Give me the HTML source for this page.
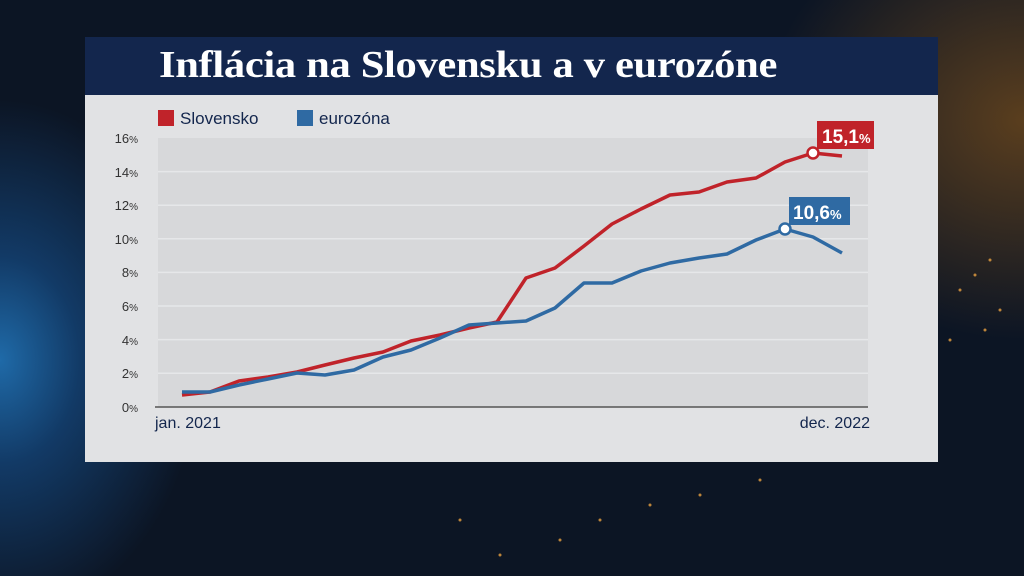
<!DOCTYPE html>
<html><head><meta charset="utf-8"><style>
body{margin:0;width:1024px;height:576px;overflow:hidden;background:#0b1220;font-family:"Liberation Sans",sans-serif}
.bg{position:absolute;inset:0;background:radial-gradient(ellipse 200px 260px at 0px 360px,#1f6aa8 0%,#123a66 40%,rgba(11,18,32,0) 100%),radial-gradient(ellipse 260px 220px at 1024px 120px,#5a3e1e 0%,rgba(11,18,32,0) 100%),#0c1524}
.panel{position:absolute;left:85px;top:37px;width:853px;height:425px;background:#e1e2e4}
.title{position:absolute;left:0;top:0;width:853px;height:58px;background:#13264d}
.title span{position:absolute;left:74px;top:0;color:#fff;font:bold 38px "Liberation Serif",serif;line-height:56px;transform:scaleX(1.12);transform-origin:0 0;white-space:nowrap;letter-spacing:-0.3px}
</style></head><body>
<div class="bg"></div>
<div class="panel"><div class="title"><span>Inflácia na Slovensku a v eurozóne</span></div></div>
<svg style="position:absolute;left:0;top:0" width="1024" height="576">
<g fill="#e8a040" opacity="0.8">
<circle cx="960" cy="290" r="1.5"/><circle cx="975" cy="275" r="1.5"/><circle cx="990" cy="260" r="1.5"/><circle cx="1000" cy="310" r="1.5"/><circle cx="950" cy="340" r="1.5"/><circle cx="985" cy="330" r="1.5"/><circle cx="600" cy="520" r="1.5"/><circle cx="650" cy="505" r="1.5"/><circle cx="700" cy="495" r="1.5"/><circle cx="560" cy="540" r="1.5"/><circle cx="500" cy="555" r="1.5"/><circle cx="460" cy="520" r="1.5"/><circle cx="760" cy="480" r="1.5"/>
</g>
<rect x="158" y="138" width="710" height="269" fill="#d7d8da"/>
<g stroke="#e6e7e9" stroke-width="1.5">
<line x1="158" x2="868" y1="171.6" y2="171.6"/><line x1="158" x2="868" y1="205.2" y2="205.2"/><line x1="158" x2="868" y1="238.8" y2="238.8"/><line x1="158" x2="868" y1="272.4" y2="272.4"/><line x1="158" x2="868" y1="306" y2="306"/><line x1="158" x2="868" y1="339.6" y2="339.6"/><line x1="158" x2="868" y1="373.2" y2="373.2"/>
</g>
<line x1="155" x2="868" y1="407" y2="407" stroke="#555" stroke-width="1.5"/>
<g font-size="13" fill="#333" text-anchor="end">
<text x="138" y="143">16<tspan font-size="10">%</tspan></text><text x="138" y="177">14<tspan font-size="10">%</tspan></text><text x="138" y="210">12<tspan font-size="10">%</tspan></text><text x="138" y="244">10<tspan font-size="10">%</tspan></text><text x="138" y="277">8<tspan font-size="10">%</tspan></text><text x="138" y="311">6<tspan font-size="10">%</tspan></text><text x="138" y="345">4<tspan font-size="10">%</tspan></text><text x="138" y="378">2<tspan font-size="10">%</tspan></text><text x="138" y="412">0<tspan font-size="10">%</tspan></text>
</g>
<text x="155" y="428" font-size="16" fill="#13264d">jan. 2021</text>
<text x="870" y="428" font-size="16" fill="#13264d" text-anchor="end">dec. 2022</text>
<rect x="158" y="110" width="16" height="16" fill="#c0232a"/><text x="180" y="124" font-size="17" fill="#13264d">Slovensko</text>
<rect x="297" y="110" width="16" height="16" fill="#2f6aa3"/><text x="319" y="124" font-size="17" fill="#13264d">eurozóna</text>
<polyline fill="none" stroke="#c0232a" stroke-width="3.5" stroke-linejoin="round" points="182,395 210,392 239,381 268,377 297,372 325,365 354,358 383,352 411,341 440,335 469,328 497,322 526,278 555,268 584,246 612,224 641,209 670,195 699,192 727,182 756,178 785,162 813,153 842,156"/>
<polyline fill="none" stroke="#2f6aa3" stroke-width="3.5" stroke-linejoin="round" points="182,392 210,392 239,385 268,379 297,373 325,375 354,370 383,357 411,350 440,338 469,325 497,323 526,321 555,308 584,283 612,283 641,271 670,263 699,258 727,254 756,240 785,229 813,237 842,253"/>
<circle cx="813" cy="153" r="5.5" fill="#fff" stroke="#c0232a" stroke-width="2.5"/>
<circle cx="785" cy="229" r="5.5" fill="#fff" stroke="#2f6aa3" stroke-width="2.5"/>
<rect x="817" y="121" width="57" height="28" fill="#c0232a"/><text x="822" y="143" font-size="19" font-weight="bold" fill="#fff">15,1<tspan font-size="13">%</tspan></text>
<rect x="789" y="197" width="61" height="28" fill="#2f6aa3"/><text x="793" y="219" font-size="19" font-weight="bold" fill="#fff">10,6<tspan font-size="13">%</tspan></text>
</svg>
</body></html>
